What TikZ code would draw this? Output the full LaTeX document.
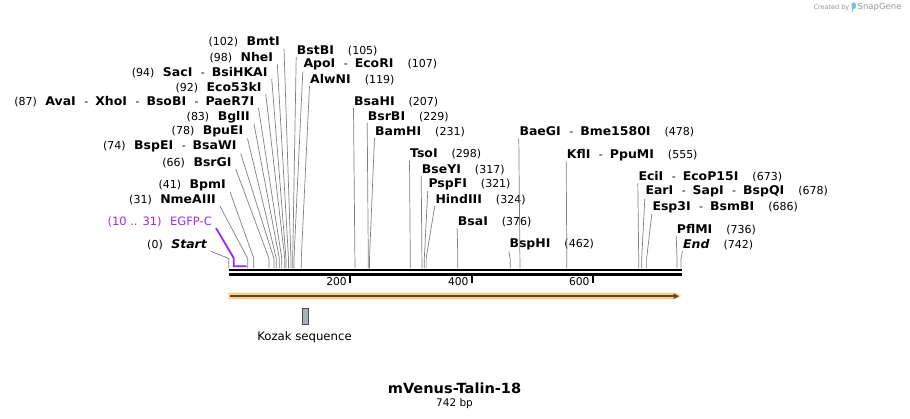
\documentclass[tikz,border=0pt]{standalone}
\usepackage{fontspec}
\setmainfont{DejaVu Sans}[BoldFeatures={FakeStretch=1.04}, BoldItalicFeatures={FakeStretch=1.04}]
\usetikzlibrary{arrows.meta}

\definecolor{cutgrey}{RGB}{128,128,128}
\definecolor{featpurple}{RGB}{160,40,240}
\definecolor{orfband}{RGB}{255,206,128}
\definecolor{orfline}{RGB}{90,72,50}
\definecolor{kozakfill}{RGB}{170,177,190}
\definecolor{kozakdraw}{RGB}{75,75,75}
\definecolor{logoblue}{RGB}{120,190,235}
\definecolor{credgrey}{RGB}{150,150,150}

\newcommand{\posgap}{\hspace{8.5pt}}
\newcommand{\numgap}{\hspace{14pt}}
\newcommand{\enz}[1]{{\fontsize{12}{14}\selectfont\bfseries #1}}
\newcommand{\esep}{\hspace{8.5pt}-\hspace{7pt}}

\tikzset{
  lbl/.style={font=\fontsize{11}{13}\selectfont, inner ysep=1pt},
  lft/.style={lbl, anchor=east, inner xsep=4pt},
  rgt/.style={lbl, anchor=west, inner xsep=0.5pt},
  cut/.style={cutgrey, line width=0.7pt},
  seqline/.style={black, line width=2.4pt},
  tickmark/.style={black, line width=1.8pt},
  ticklbl/.style={font=\fontsize{10.7}{12}\selectfont, anchor=east, inner sep=0pt},
}

\begin{document}
\begin{tikzpicture}[x=1pt, y=-1pt]

\useasboundingbox (0,0) rectangle (910,419);

\coordinate (s0) at (228.8,268.5);
\coordinate (s31) at (247.7,268.5);
\coordinate (s41) at (253.8,268.5);
\coordinate (s66) at (269.0,268.5);
\coordinate (s74) at (273.9,268.5);
\coordinate (s78) at (276.3,268.5);
\coordinate (s83) at (279.3,268.5);
\coordinate (s87) at (281.8,268.5);
\coordinate (s92) at (284.8,268.5);
\coordinate (s94) at (286.0,268.5);
\coordinate (s98) at (288.5,268.5);
\coordinate (s102) at (290.9,268.5);
\coordinate (s105) at (292.7,268.5);
\coordinate (s107) at (294.0,268.5);
\coordinate (s119) at (301.3,268.5);
\coordinate (s207) at (354.9,268.5);
\coordinate (s229) at (368.3,268.5);
\coordinate (s231) at (369.5,268.5);
\coordinate (s298) at (410.3,268.5);
\coordinate (s317) at (421.9,268.5);
\coordinate (s321) at (424.3,268.5);
\coordinate (s324) at (426.1,268.5);
\coordinate (s376) at (457.8,268.5);
\coordinate (s462) at (510.2,268.5);
\coordinate (s478) at (519.9,268.5);
\coordinate (s555) at (566.8,268.5);
\coordinate (s673) at (638.7,268.5);
\coordinate (s678) at (641.7,268.5);
\coordinate (s686) at (646.6,268.5);
\coordinate (s736) at (677.0,268.5);
\coordinate (s742) at (681.0,268.5);

\draw (284,42.3) node (bmt) [lft] {(102)\posgap\enz{BmtI}};
\draw (277.3,57.3) node (nhe) [lft] {(98)\posgap\enz{NheI}};
\draw (271.7,72.3) node (sac) [lft] {(94)\posgap\enz{SacI}\esep\enz{BsiHKAI}};
\draw (265.7,87.3) node (ecofs) [lft] {(92)\posgap\enz{Eco53kI}};
\draw (258.5,101.7) node (ava) [lft] {(87)\posgap\enz{AvaI}\esep\enz{XhoI}\esep\enz{BsoBI}\esep\enz{PaeR7I}};
\draw (254,117) node (bgl) [lft] {(83)\posgap\enz{BglII}};
\draw (247.5,131.7) node (bpue) [lft] {(78)\posgap\enz{BpuEI}};
\draw (240.7,146.7) node (bspe) [lft] {(74)\posgap\enz{BspEI}\esep\enz{BsaWI}};
\draw (235.7,162.5) node (bsrg) [lft] {(66)\posgap\enz{BsrGI}};
\draw (230,185) node (bpm) [lft] {(41)\posgap\enz{BpmI}};
\draw (220,200) node (nme) [lft] {(31)\posgap\enz{NmeAIII}};
\draw (216,221.7) node (egfp) [lft, featpurple, font=\fontsize{11.5}{13}\selectfont] {(10 .. 31)\posgap EGFP-C};
\draw (211,245) node (startsite) [lft] {(0)\posgap\enz{\itshape Start}};

\draw [cut] (bmt.south east) -- ([yshift=10pt]s102) -- (s102);
\draw [cut] (nhe.south east) -- ([yshift=10pt]s98) -- (s98);
\draw [cut] (sac.south east) -- ([yshift=10pt]s94) -- (s94);
\draw [cut] (ecofs.south east) -- ([yshift=10pt]s92) -- (s92);
\draw [cut] (ava.south east) -- ([yshift=10pt]s87) -- (s87);
\draw [cut] (bgl.south east) -- ([yshift=10pt]s83) -- (s83);
\draw [cut] (bpue.south east) -- ([yshift=10pt]s78) -- (s78);
\draw [cut] (bspe.south east) -- ([yshift=10pt]s74) -- (s74);
\draw [cut] (bsrg.south east) -- ([yshift=10pt]s66) -- (s66);
\draw [cut] (bpm.south east) -- ([yshift=10pt]s41) -- (s41);
\draw [cut] (nme.south east) -- ([yshift=10pt]s31) -- (s31);
\draw [cut] (startsite.south east) -- ([yshift=10pt]s0) -- (s0);

\coordinate (f10) at (233.8,266.2);
\coordinate (f31) at (246.5,266.2);
\draw [featpurple, line width=1.8pt] (egfp.south east) -- ([yshift=8pt]f10) -- (f10) -- (f31);

\draw (296.2,50.5) node (bstb) [rgt] {\enz{BstBI}\numgap(105)};
\draw (302.8,64.7) node (apo) [rgt] {\enz{ApoI}\esep\enz{EcoRI}\numgap(107)};
\draw (309.5,79.3) node (alwn) [rgt] {\enz{AlwNI}\numgap(119)};
\draw (353.5,101.7) node (bsah) [rgt] {\enz{BsaHI}\numgap(207)};
\draw (367.2,116.7) node (bsrb) [rgt] {\enz{BsrBI}\numgap(229)};
\draw (374.5,131.7) node (bamh) [rgt] {\enz{BamHI}\numgap(231)};
\draw (409.5,154.3) node (tso) [rgt] {\enz{TsoI}\numgap(298)};
\draw (421.2,169.7) node (bsey) [rgt] {\enz{BseYI}\numgap(317)};
\draw (427.8,184) node (pspf) [rgt] {\enz{PspFI}\numgap(321)};
\draw (434.8,199.3) node (hind) [rgt] {\enz{HindIII}\numgap(324)};
\draw (457.2,222) node (bsa) [rgt] {\enz{BsaI}\numgap(376)};
\draw (508.8,244.7) node (bsph) [rgt] {\enz{BspHI}\numgap(462)};
\draw (518.8,132) node (baeg) [rgt] {\enz{BaeGI}\esep\enz{Bme1580I}\numgap(478)};
\draw (566.2,154.7) node (kfl) [rgt] {\enz{KflI}\esep\enz{PpuMI}\numgap(555)};
\draw (637.8,176.7) node (eci) [rgt] {\enz{EciI}\esep\enz{EcoP15I}\numgap(673)};
\draw (644.8,191.7) node (ear) [rgt] {\enz{EarI}\esep\enz{SapI}\esep\enz{BspQI}\numgap(678)};
\draw (651.8,207.3) node (esp) [rgt] {\enz{Esp3I}\esep\enz{BsmBI}\numgap(686)};
\draw (676.2,229.3) node (pflm) [rgt] {\enz{PflMI}\numgap(736)};
\draw (682.5,244.7) node (endsite) [rgt] {\enz{\itshape End}\numgap(742)};

\draw [cut] (bstb.south west) -- ([yshift=10pt]s105) -- (s105);
\draw [cut] (apo.south west) -- ([yshift=10pt]s107) -- (s107);
\draw [cut] (alwn.south west) -- ([yshift=10pt]s119) -- (s119);
\draw [cut] (bsah.south west) -- ([yshift=10pt]s207) -- (s207);
\draw [cut] (bsrb.south west) -- ([yshift=10pt]s229) -- (s229);
\draw [cut] (bamh.south west) -- ([yshift=10pt]s231) -- (s231);
\draw [cut] (tso.south west) -- ([yshift=10pt]s298) -- (s298);
\draw [cut] (bsey.south west) -- ([yshift=10pt]s317) -- (s317);
\draw [cut] (pspf.south west) -- ([yshift=10pt]s321) -- (s321);
\draw [cut] (hind.south west) -- ([yshift=10pt]s324) -- (s324);
\draw [cut] (bsa.south west) -- ([yshift=10pt]s376) -- (s376);
\draw [cut] (bsph.south west) -- ([yshift=10pt]s462) -- (s462);
\draw [cut] (baeg.south west) -- ([yshift=10pt]s478) -- (s478);
\draw [cut] (kfl.south west) -- ([yshift=10pt]s555) -- (s555);
\draw [cut] (eci.south west) -- ([yshift=10pt]s673) -- (s673);
\draw [cut] (ear.south west) -- ([yshift=10pt]s678) -- (s678);
\draw [cut] (esp.south west) -- ([yshift=10pt]s686) -- (s686);
\draw [cut] (pflm.south west) -- ([yshift=10pt]s736) -- (s736);
\draw [cut] (endsite.south west) -- ([yshift=10pt]s742) -- (s742);

\coordinate (seqa) at (228.5,270.3);
\coordinate (seqb) at (681.7,270.3);
\draw [seqline] (seqa) -- (seqb);
\draw [seqline] ([yshift=-4.3pt]seqa) -- ([yshift=-4.3pt]seqb);

\draw [tickmark] (350,276) -- (350,283);
\draw (347,282) node (t200) [ticklbl] {200};
\draw [tickmark] (471.7,276) -- (471.7,283);
\draw (468.7,282) node (t400) [ticklbl] {400};
\draw [tickmark] (592.7,276) -- (592.7,283);
\draw (589.7,282) node (t600) [ticklbl] {600};

\fill [orfband] (228.5,292.6) -- (675.5,292.6) -- (681.5,295.9) -- (675.5,299.2) -- (228.5,299.2) -- cycle;
\draw [orfline, line width=2pt, -{Stealth[length=6pt, width=6pt]}] (230,296.2) -- (679,296.2);

\draw (305.5,316.2) node (kozak) [draw=kozakdraw, fill=kozakfill, line width=1.3pt, minimum width=6pt, minimum height=16pt, inner sep=0pt] {};
\draw (304.5,337.5) node (kozaklbl) [lbl, font=\fontsize{11.7}{13}\selectfont] {Kozak sequence};

\draw (454.5,388) node (title) [font=\fontsize{14}{16}\selectfont\bfseries] {mVenus-Talin-18};
\draw (454.5,403.5) node (len) [font=\fontsize{10.5}{12}\selectfont] {742 bp};

\draw (849.5,7.5) node (created) [anchor=east, inner sep=0pt, credgrey, font=\fontsize{6.5}{8}\selectfont] {Created by};
\fill [logoblue, rounded corners=1.5pt] (851.5,2.5) rectangle (855.8,9);
\fill [logoblue] (851.5,7) rectangle (853.2,12.5);
\draw (857.5,7.5) node (snapgene) [anchor=west, inner sep=0pt, credgrey, font=\fontsize{8.5}{10}\selectfont] {SnapGene};

\end{tikzpicture}
\end{document}
